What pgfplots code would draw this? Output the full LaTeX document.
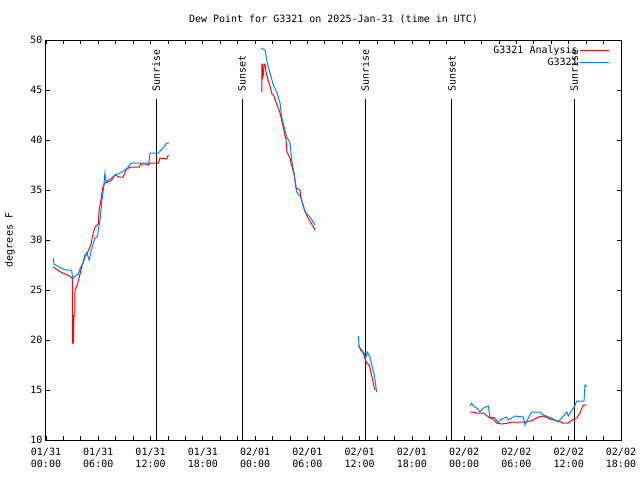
\documentclass[border=0pt]{standalone}
\usepackage{pgfplots}
\pgfplotsset{compat=1.18}
\usepackage{fontspec}
\setmainfont{DejaVu Sans Mono}
\definecolor{obsblue}{RGB}{0,128,255}
\definecolor{anared}{RGB}{255,0,0}
\begin{document}
\fontsize{10bp}{12bp}\selectfont
\begin{tikzpicture}
\begin{axis}[name=ax, scale only axis, width=575bp, height=400bp,
  xmin=0, xmax=66, ymin=10, ymax=50,
  xtick={0,6,...,66}, minor xtick={0,2,...,66},
  xticklabels={{01/31\\00:00},{01/31\\06:00},{01/31\\12:00},{01/31\\18:00},{02/01\\00:00},{02/01\\06:00},{02/01\\12:00},{02/01\\18:00},{02/02\\00:00},{02/02\\06:00},{02/02\\12:00},{02/02\\18:00}},
  xticklabel style={align=center, font=\fontsize{10bp}{12bp}\selectfont, inner sep=2bp, yshift=-6bp},
  yticklabel style={font=\fontsize{10bp}{12bp}\selectfont},
  ytick={10,15,...,50},
  tick align=inside, major tick length=4bp, minor tick length=4bp,
  tick style={black, line width=0.8bp},
  axis line style={line width=1bp},
  /pgf/number format/assume math mode=true,
  unbounded coords=jump,
  title={Dew Point for G3321 on 2025-Jan-31 (time in UTC)},
  title style={at={(0.5,1)}, anchor=center, yshift=15bp, font=\fontsize{10bp}{12bp}\selectfont},
  ylabel={degrees F},
  every axis y label/.style={at={(rel axis cs:0,0.5)}, rotate=90, anchor=center, yshift=36bp, font=\fontsize{10bp}{12bp}\selectfont},
  legend style={draw=none, fill=none, at={(0.985,0.995)}, anchor=north east, font=\fontsize{10bp}{12bp}\selectfont, row sep=0bp, nodes={inner sep=1.5bp}},
  legend cell align=right, legend plot pos=right,
  legend image code/.code={\draw[#1] (0bp,0bp) -- (29bp,0bp);},
]
% sunrise / sunset lines
\addplot[black, line width=1bp, forget plot] coordinates {(12.63,10) (12.63,44.1)};
\addplot[black, line width=1bp, forget plot] coordinates {(22.5,10) (22.5,44.1)};
\addplot[black, line width=1bp, forget plot] coordinates {(36.62,10) (36.62,44.1)};
\addplot[black, line width=1bp, forget plot] coordinates {(46.6,10) (46.6,44.1)};
\addplot[black, line width=1bp, forget plot] coordinates {(60.61,10) (60.61,44.1)};
\node[rotate=90, anchor=west, inner sep=0pt, font=\fontsize{10bp}{12bp}\selectfont] at (axis cs:12.63,44.85) {Sunrise};
\node[rotate=90, anchor=west, inner sep=0pt, font=\fontsize{10bp}{12bp}\selectfont] at (axis cs:22.5,44.85) {Sunset};
\node[rotate=90, anchor=west, inner sep=0pt, font=\fontsize{10bp}{12bp}\selectfont] at (axis cs:36.62,44.85) {Sunrise};
\node[rotate=90, anchor=west, inner sep=0pt, font=\fontsize{10bp}{12bp}\selectfont] at (axis cs:46.6,44.85) {Sunset};
\node[rotate=90, anchor=west, inner sep=0pt, font=\fontsize{10bp}{12bp}\selectfont] at (axis cs:60.61,44.85) {Sunrise};
% analysis (red)
\addplot[anared, line width=1bp, sharp plot] coordinates {
(0.84,27.3) (1.69,26.8) (2.75,26.4) (2.95,26.2) (3.02,26.1) (3.06,19.7) (3.15,19.7) (3.20,22.5) (3.30,22.5) (3.33,25.0) (3.45,25.2) (3.59,25.5) (3.82,26.3) (4.10,27.3) (4.48,28.5) (4.74,28.7) (5.13,29.5) (5.43,30.7) (5.62,31.3) (6.00,31.6) (6.10,33.0) (6.30,34.0) (6.50,35.2) (6.77,35.7) (7.15,35.8) (7.54,36.0) (7.92,36.5) (8.41,36.3) (8.87,36.3) (9.18,37.0) (9.64,37.3) (10.71,37.3) (10.87,37.6) (11.56,37.6) (11.74,37.5) (11.94,37.7) (12.89,37.7) (13.09,38.2) (13.85,38.1) (14.04,38.5)
(14.1,nan)
(24.79,44.8) (24.79,47.6) (24.85,47.6) (24.85,46.2) (24.95,46.5) (25.02,47.5) (25.14,47.6) (25.25,46.8) (25.48,46.0) (25.71,45.4) (25.94,44.6) (26.17,44.4) (26.52,43.5) (26.86,42.7) (26.97,42.3) (27.55,40.0) (27.66,38.8) (28.01,38.2) (28.12,37.7) (28.47,36.6) (28.70,35.2) (29.16,35.0) (29.27,34.2) (29.50,33.5) (29.73,32.9) (30.07,32.2) (30.42,31.7) (30.76,31.2) (30.88,31.0)
(31,nan)
(35.85,19.5) (36.12,19.0) (36.42,18.7) (36.62,18.1) (36.81,17.7) (37.11,17.5) (37.31,16.7) (37.50,16.0) (37.65,15.3) (37.80,15.0)
(38,nan)
(48.67,12.8) (49.05,12.8) (49.44,12.7) (50.20,12.7) (50.96,12.2) (51.34,12.1) (51.73,11.7) (52.31,11.6) (53.07,11.7) (53.45,11.8) (55.18,11.8) (55.93,12.0) (56.51,12.3) (57.08,12.4) (57.85,12.1) (58.80,11.9) (59.38,11.7) (59.95,11.7) (60.53,12.1) (60.91,12.2) (61.29,12.7) (61.67,13.5) (62.06,13.5)
};
\addlegendentry{G3321 Analysis}
% observations (blue)
\addplot[obsblue, line width=1bp, sharp plot] coordinates {
(0.84,28.2) (0.9,27.6) (1.69,27.2) (2.3,27.0) (2.95,27.0) (3.06,26.1) (3.33,26.4) (3.71,26.6) (3.98,27.3) (4.28,27.7) (4.48,28.3) (4.67,28.7) (4.97,28.0) (5.13,28.7) (5.36,29.5) (5.62,30.2) (5.89,30.3) (6.00,31.0) (6.20,32.0) (6.39,33.7) (6.58,35.0) (6.77,36.7) (6.89,35.8) (7.15,36.0) (7.54,36.2) (7.92,36.5) (8.49,36.7) (9.07,37.0) (9.45,37.3) (9.76,37.7) (11.82,37.7) (11.94,38.7) (12.89,38.7) (13.54,39.3) (13.85,39.7) (14.12,39.7)
(14.2,nan)
(24.68,49.2) (25.14,49.0) (25.40,47.7) (25.71,46.7) (26.09,45.5) (26.48,44.8) (26.86,43.7) (27.05,42.3) (27.63,40.3) (28.01,39.7) (28.20,38.0) (28.47,36.7) (28.78,34.8) (29.24,34.3) (29.73,32.8) (30.30,32.3) (30.88,31.5)
(31,nan)
(35.85,20.4) (35.96,19.3) (36.24,19.0) (36.50,18.7) (36.70,18.2) (36.88,18.8) (37.19,18.3) (37.46,17.3) (37.68,16.5) (37.84,15.5) (37.96,14.8)
(38,nan)
(48.67,13.4) (48.86,13.7) (49.05,13.4) (49.44,13.2) (49.82,12.8) (50.20,13.2) (50.77,13.4) (50.96,12.3) (51.54,12.2) (51.92,11.7) (52.11,12.0) (52.88,12.3) (53.07,12.0) (53.83,12.4) (54.79,12.3) (54.98,11.5) (55.18,11.9) (55.75,12.8) (56.70,12.8) (57.08,12.5) (58.04,12.2) (58.80,11.8) (59.19,12.2) (59.77,12.8) (59.95,12.4) (60.53,13.2) (60.64,13.3) (60.91,13.9) (61.75,13.9) (61.87,15.5) (62.06,15.3)
};
\addlegendentry{G3321}
\end{axis}
\path[use as bounding box] ([xshift=-46bp,yshift=-40bp]ax.south west) rectangle ([xshift=19bp,yshift=40bp]ax.north east);
\end{tikzpicture}
\end{document}
